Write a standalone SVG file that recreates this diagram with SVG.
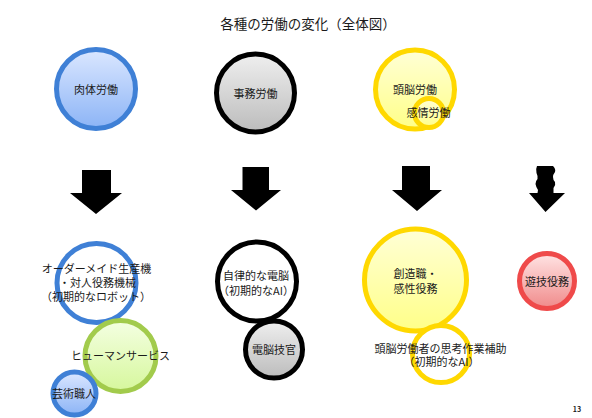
<svg xmlns="http://www.w3.org/2000/svg" width="592" height="418" viewBox="0 0 592 418">
<defs>
<linearGradient id="gBlue" x1="0" y1="0" x2="0" y2="1"><stop offset="0" stop-color="#dbe7ff"/><stop offset="1" stop-color="#8cb4f6"/></linearGradient>
<linearGradient id="gGrey" x1="0" y1="0" x2="0" y2="1"><stop offset="0" stop-color="#efefef"/><stop offset="1" stop-color="#bcbcbc"/></linearGradient>
<linearGradient id="gYellow" x1="0" y1="0" x2="0" y2="1"><stop offset="0" stop-color="#ffffd6"/><stop offset="1" stop-color="#ffff88"/></linearGradient>
<linearGradient id="gGreen" x1="0" y1="0" x2="0" y2="1"><stop offset="0" stop-color="#f4ffe2"/><stop offset="1" stop-color="#d6f79c"/></linearGradient>
<linearGradient id="gRed" x1="0" y1="0" x2="0" y2="1"><stop offset="0" stop-color="#ffe4e4"/><stop offset="1" stop-color="#f08a8a"/></linearGradient>
</defs>
<style>
text{font-family:"Noto Sans CJK JP","Noto Sans",sans-serif;fill:#1a1a1a;text-anchor:middle;dominant-baseline:central;font-size:11px}
.title{font-size:13.5px}
.blue{stroke:#3f80d6;stroke-width:5}
.black{stroke:#000;stroke-width:5}
.yellow{stroke:#ffd800;stroke-width:5}
.green{stroke:#a2cb4c;stroke-width:5}
.red{stroke:#ef4a4a;stroke-width:5}
.arrow{fill:#000}
</style>
<rect width="592" height="418" fill="#fff"/>
<text class="title" x="308" y="23">各種の労働の変化（全体図）</text>

<g id="n-nikutai"><circle class="blue" cx="96" cy="89" r="39.5" fill="url(#gBlue)"/><text x="96" y="89">肉体労働</text></g>
<g id="n-jimu"><circle class="black" cx="255.5" cy="93" r="39" fill="url(#gGrey)"/><text x="255.5" y="93">事務労働</text></g>
<g id="n-zunou"><circle class="yellow" cx="415" cy="89.5" r="39.5" fill="url(#gYellow)"/><text x="415" y="89">頭脳労働</text></g>
<g id="n-kanjou"><circle class="yellow" cx="429" cy="113" r="14.5" fill="url(#gYellow)"/><text x="428.5" y="112">感情労働</text></g>

<g id="connectors">
<path class="arrow" d="M82,170 H111 V193 H122 L96,214 L70,193 H82 Z"/>
<path class="arrow" d="M242.5,167 H269 V190 H281 L256,210.5 L231,190 H242.5 Z"/>
<path class="arrow" d="M402,166 H430 V190 H442 L417,211 L392,190 H402 Z"/>
<path class="arrow" d="M537,166 H553 Q556,169 555,172 Q553,174.5 553,177 Q553,180 555,182 Q556,185 553.5,188 L553.5,193 H565 L545.5,212 L529,193 H537.5 L538,190 Q536,187 535.5,184 Q535.5,181 537.5,179 Q538,176 536.5,173 Q535.5,169 537,166 Z"/>
</g>

<g id="n-order"><circle class="blue" cx="96.5" cy="283" r="39.5" fill="#fff"/></g>
<g id="n-human"><circle class="green" cx="120.5" cy="356" r="35.5" fill="url(#gGreen)"/></g>
<g id="n-geijutsu"><circle class="blue" cx="74.5" cy="393.5" r="21.5" fill="url(#gBlue)"/><text x="74" y="393">芸術職人</text></g>
<g id="t-order"><text x="96.5" y="268">オーダーメイド生産機</text><text x="97.5" y="282">・対人役務機械</text><text x="96" y="295.5">（初期的なロボット）</text></g>
<g id="t-human"><text x="120.5" y="355">ヒューマンサービス</text></g>

<g id="n-jiritsu"><circle class="black" cx="257" cy="281.5" r="39.5" fill="#fff"/><text x="256" y="275">自律的な電脳</text><text x="256" y="290">（初期的なAI）</text></g>
<g id="n-denno"><circle class="black" cx="274" cy="349.5" r="28.5" fill="url(#gGrey)"/><text x="274" y="348.5">電脳技官</text></g>

<g id="n-souzou"><circle class="yellow" cx="415.5" cy="280" r="51" fill="url(#gYellow)"/><text x="415.5" y="272.5">創造職・</text><text x="415.5" y="287.5">感性役務</text></g>
<g id="n-hojo"><circle class="yellow" cx="441" cy="354" r="28.5" fill="#fff"/></g>
<g id="t-hojo"><text x="440.5" y="347.5">頭脳労働者の思考作業補助</text><text x="441.5" y="360.5">（初期的なAI）</text></g>

<g id="n-yugi"><circle class="red" cx="547" cy="281" r="27.5" fill="url(#gRed)"/><text x="547" y="281">遊技役務</text></g>

<text x="577" y="409" style="font-size:7px;font-weight:bold">13</text>
</svg>
